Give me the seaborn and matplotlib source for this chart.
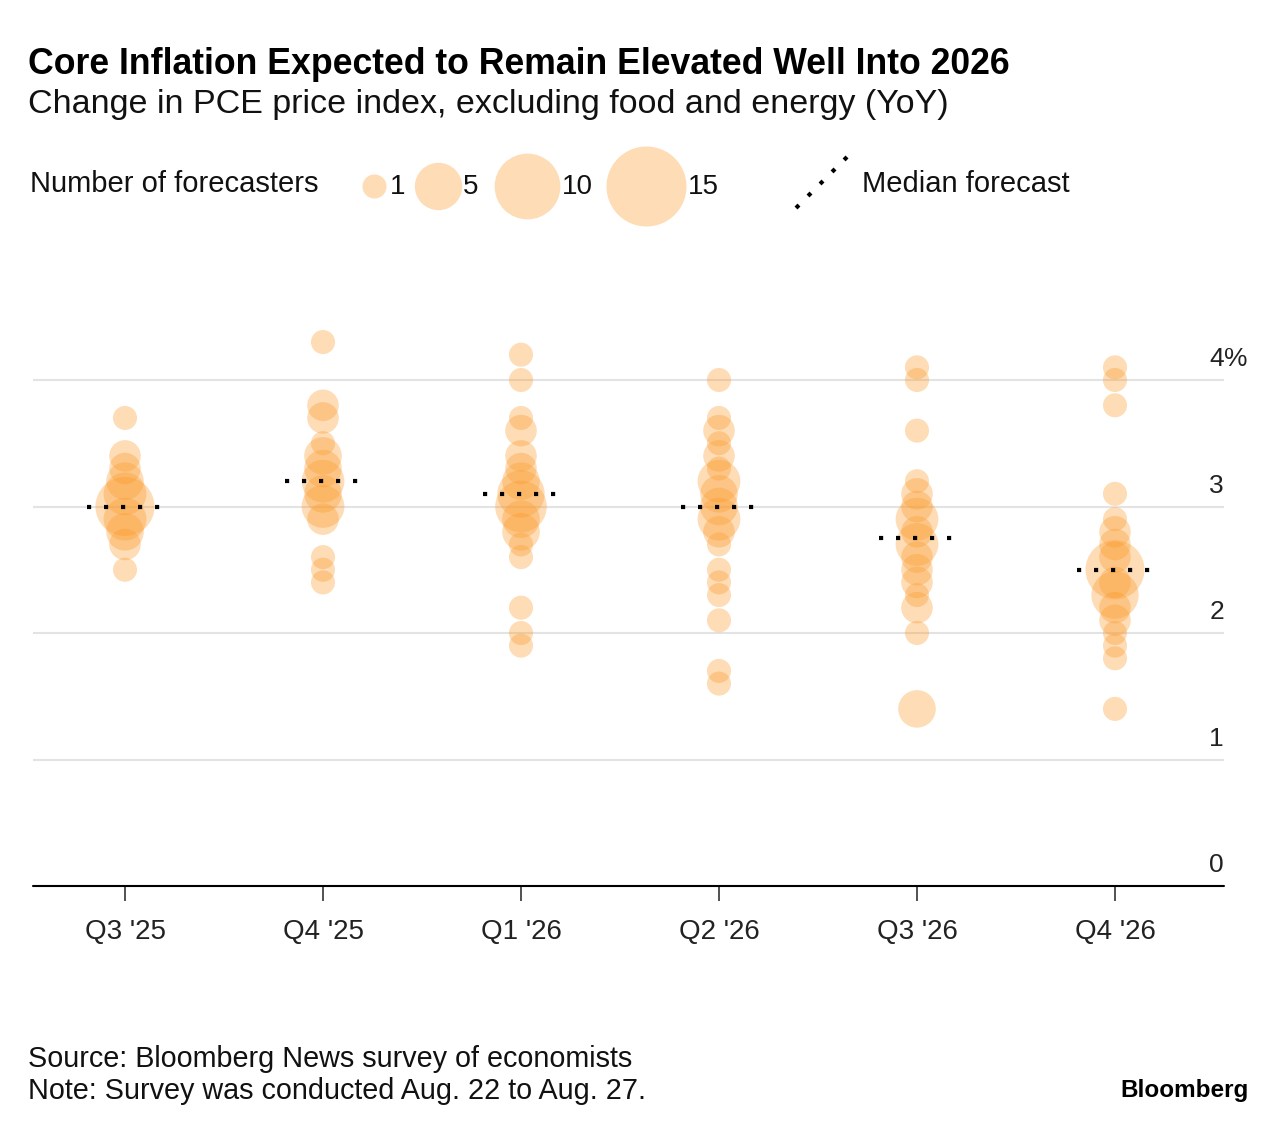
import matplotlib
matplotlib.use("Agg")
import matplotlib.pyplot as plt
from matplotlib.lines import Line2D
import numpy as np
import pandas as pd
import seaborn as sns

# --- data ---
quarters = ["Q3 '25", "Q4 '25", "Q1 '26", "Q2 '26", "Q3 '26", "Q4 '26"]

q3_25_values = [3.7, 3.4, 3.3, 3.2, 3.1, 3.0, 2.9, 2.8, 2.7, 2.5]
q3_25_counts = [1, 2, 2, 3, 4, 8, 4, 3, 2, 1]

q4_25_values = [4.3, 3.8, 3.7, 3.5, 3.4, 3.3, 3.2, 3.1, 3.0, 2.9, 2.6, 2.5, 2.4]
q4_25_counts = [1, 2, 2, 1, 3, 3, 4, 3, 4, 2, 1, 1, 1]

q1_26_values = [4.2, 4.0, 3.7, 3.6, 3.4, 3.3, 3.2, 3.1, 3.0, 2.9, 2.8, 2.7, 2.6, 2.2, 2.0, 1.9]
q1_26_counts = [1, 1, 1, 2, 2, 2, 3, 5, 6, 3, 3, 1, 1, 1, 1, 1]

q2_26_values = [4.0, 3.7, 3.6, 3.5, 3.4, 3.3, 3.2, 3.1, 3.0, 2.9, 2.8, 2.7, 2.5, 2.4, 2.3, 2.1, 1.7, 1.6]
q2_26_counts = [1, 1, 2, 1, 2, 1, 4, 3, 3, 4, 2, 1, 1, 1, 1, 1, 1, 1]

q3_26_values = [4.1, 4.0, 3.6, 3.2, 3.1, 3.0, 2.9, 2.8, 2.7, 2.6, 2.5, 2.4, 2.3, 2.2, 2.0, 1.4]
q3_26_counts = [1, 1, 1, 1, 2, 2, 4, 2, 4, 2, 2, 2, 1, 2, 1, 3]

q4_26_values = [4.1, 4.0, 3.8, 3.1, 2.9, 2.8, 2.7, 2.6, 2.5, 2.4, 2.3, 2.2, 2.1, 2.0, 1.9, 1.8, 1.4]
q4_26_counts = [1, 1, 1, 1, 1, 2, 2, 2, 8, 2, 5, 2, 2, 1, 1, 1, 1]

medians = [3.0, 3.2, 3.1, 3.0, 2.75, 2.5]

y_ticks = [0, 1, 2, 3, 4]
y_labels = ["0", "1", "2", "3", "4"]
legend_counts = [1, 5, 10, 15]

# --- build long table ---
all_values = [q3_25_values, q4_25_values, q1_26_values, q2_26_values, q3_26_values, q4_26_values]
all_counts = [q3_25_counts, q4_25_counts, q1_26_counts, q2_26_counts, q3_26_counts, q4_26_counts]
frames = []
for i, (q, v, c) in enumerate(zip(quarters, all_values, all_counts)):
    frames.append(pd.DataFrame({"quarter": q, "pos": i, "forecast": v, "count": c}))
df = pd.concat(frames, ignore_index=True)

ORANGE = "#fb9a2a"
ALPHA = 0.34
S_MIN, S_MAX = 300, 3320
N_MIN, N_MAX = 1, 15
DOTS = (0, (1, 3.08))


def marker_area(n):
    return S_MIN + (n - N_MIN) / (N_MAX - N_MIN) * (S_MAX - S_MIN)


sns.set_theme(style="white")
plt.rcParams["font.family"] = ["Liberation Sans", "DejaVu Sans"]

W, H = 1286, 1132
fig = plt.figure(figsize=(W / 100, H / 100), dpi=100)

# main axes, placed in pixel terms
left, right, bottom, top = 33, 1224, 886, 300
ax = fig.add_axes([left / W, (H - bottom) / H, (right - left) / W, (bottom - top) / H])

sns.scatterplot(data=df, x="pos", y="forecast", size="count", sizes=(S_MIN, S_MAX),
                size_norm=(N_MIN, N_MAX), color=ORANGE, alpha=ALPHA, linewidth=0,
                legend=False, ax=ax, zorder=3)

# median forecast dotted bars
for i, m in enumerate(medians):
    ax.hlines(m, i - 0.19, i + 0.19, colors="black", linewidth=3,
              linestyles=DOTS, zorder=4)

px_per_unit = 126.5
ax.set_ylim(0, (bottom - top) / px_per_unit)
ax.set_xlim((left - 125) / 198, (right - 125) / 198)

for t in y_ticks[1:]:
    ax.axhline(t, color="#e3e3e3", linewidth=1.5, zorder=1)
ax.axhline(0, color="black", linewidth=1.5, zorder=5, clip_on=False)

for t, lab in zip(y_ticks, y_labels):
    ax.text(ax.get_xlim()[1], t + 0.07, lab, ha="right", va="bottom",
            fontsize=19, color="#222222")
ax.text(ax.get_xlim()[1], y_ticks[-1] + 0.07, "%", ha="left", va="bottom",
        fontsize=19, color="#222222")

ax.set_xticks(range(len(quarters)))
ax.set_xticklabels(quarters, fontsize=20, color="#222222")
ax.tick_params(axis="x", length=11, width=1.2, color="#333333", pad=13, bottom=True)
ax.set_yticks([])
ax.set_xlabel("")
ax.set_ylabel("")
for s in ax.spines.values():
    s.set_visible(False)
ax.patch.set_alpha(0)

# overlay axes in pixel coordinates for titles / legend / notes
ov = fig.add_axes([0, 0, 1, 1], zorder=-1)
ov.set_xlim(0, W)
ov.set_ylim(H, 0)
ov.axis("off")

ov.text(28, 64, "Core Inflation Expected to Remain Elevated Well Into 2026",
        fontsize=25.7, fontweight="bold", va="center", ha="left", color="black")
ov.text(28, 105, "Change in PCE price index, excluding food and energy (YoY)",
        fontsize=24.5, va="center", ha="left", color="#111111")

ov.text(30, 184, "Number of forecasters", fontsize=21, va="center", ha="left", color="#111111")
leg_x = [374, 438, 527, 646]
lab_x = [390, 463, 562, 688]
for n, cx, lx in zip(legend_counts, leg_x, lab_x):
    ov.scatter([cx], [186], s=marker_area(n), color=ORANGE, alpha=ALPHA, linewidth=0)
    ov.text(lx, 187, str(n), fontsize=20, va="center", ha="left", color="#111111")

ov.add_line(Line2D([796, 850], [208, 154], color="black", linewidth=3,
                   linestyle=DOTS))
ov.text(862, 184, "Median forecast", fontsize=21, va="center", ha="left", color="#111111")

ov.text(28, 1059, "Source: Bloomberg News survey of economists", fontsize=20.7,
        va="center", ha="left", color="#111111")
ov.text(28, 1091, "Note: Survey was conducted Aug. 22 to Aug. 27.", fontsize=20.7,
        va="center", ha="left", color="#111111")
ov.text(1249, 1090, "Bloomberg", fontsize=17.5, fontweight="bold", va="center",
        ha="right", color="black")

fig.savefig("out.png", dpi=100)
